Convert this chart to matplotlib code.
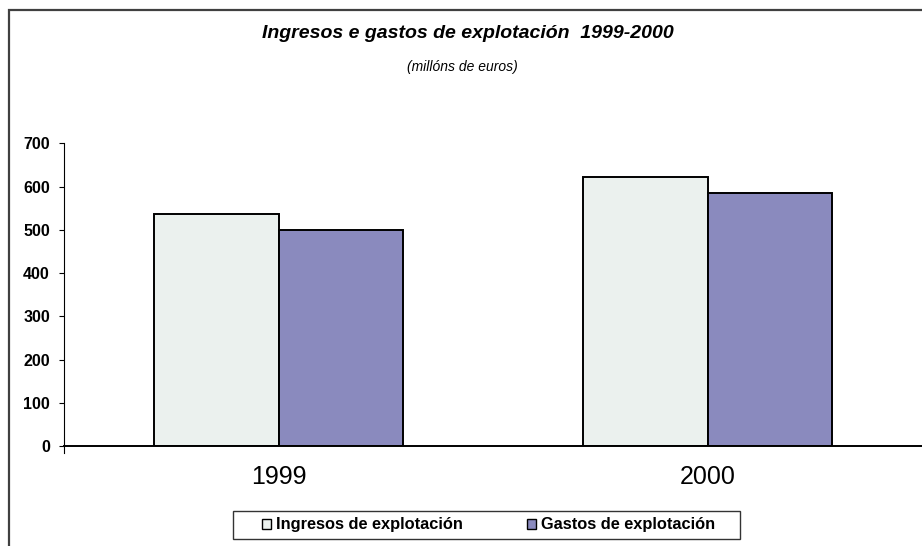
import matplotlib
matplotlib.use("Agg")
import matplotlib.pyplot as plt
import numpy as np
from matplotlib.patches import Rectangle
from matplotlib.lines import Line2D

plt.rcParams['font.family'] = ['Liberation Sans', 'DejaVu Sans']

years = ["1999", "2000"]
ingresos = [537, 622]
gastos = [499, 584]
series_names = ["Ingresos de explotación", "Gastos de explotación"]
yticks = [0, 100, 200, 300, 400, 500, 600, 700]

c_ing = "#EBF1EE"
c_gas = "#8A8ABE"

W, H = 922, 546
fig = plt.figure(figsize=(W / 100, H / 100), dpi=100)

# outer chart frame (cropped at right and bottom)
frame = Rectangle((8.5 / W, -0.1), 2.0, (H - 10) / H + 0.1, transform=fig.transFigure,
                  fill=False, edgecolor="#404040", linewidth=1.6)
fig.add_artist(frame)

ax = fig.add_axes([64 / W, (H - 446) / H, (W - 64) / W, (446 - 143.3) / H])
x = np.arange(len(years))
bw = 0.29
ax.bar(x - bw / 2, ingresos, bw, color=c_ing, edgecolor="black", linewidth=1.4,
       label=series_names[0])
ax.bar(x + bw / 2, gastos, bw, color=c_gas, edgecolor="black", linewidth=1.4,
       label=series_names[1])

ax.set_xlim(-0.5, 1.5)
ax.set_ylim(0, 700)
ax.set_yticks(yticks)
ax.set_yticklabels([str(v) for v in yticks], fontsize=11.5, fontweight="bold")
ax.tick_params(axis="y", direction="out", length=3.6, width=0.8, pad=6.5)
ax.set_xticks(x)
ax.set_xticklabels(years, fontsize=18)
ax.tick_params(axis="x", length=0, pad=14)

for s in ["top", "right"]:
    ax.spines[s].set_visible(False)
ax.spines["left"].set_linewidth(0.8)
ax.spines["bottom"].set_linewidth(1.4)
# small extension of the value axis below zero
ax.add_line(Line2D([0, 0], [0, -7 / 302.7], transform=ax.transAxes,
                   color="black", linewidth=0.8, clip_on=False))

fig.text(468 / W, 1 - 34 / H, "Ingresos e gastos de explotación  1999-2000",
         ha="center", va="center", fontsize=14, fontstyle="italic", fontweight="bold")
fig.text(462 / W, 1 - 67 / H, "(millóns de euros)", ha="center", va="center",
         fontsize=10, fontstyle="italic")

# legend box
legbox = Rectangle((233 / W, 1 - 539 / H), (740 - 233) / W, 28 / H,
                   transform=fig.transFigure, fill=True, facecolor="white",
                   edgecolor="#333333", linewidth=1.0)
fig.add_artist(legbox)
leg = fig.legend(loc="center", bbox_to_anchor=(488.5 / W, 1 - 525 / H), ncol=2,
                 prop={"size": 11.8, "weight": "bold"}, frameon=False,
                 handlelength=0.55, handleheight=0.55,
                 handletextpad=0.3, columnspacing=3.9, borderpad=0,
                 borderaxespad=0)
for h in leg.legend_handles:
    h.set_linewidth(1)

fig.savefig("out.png", dpi=100)
